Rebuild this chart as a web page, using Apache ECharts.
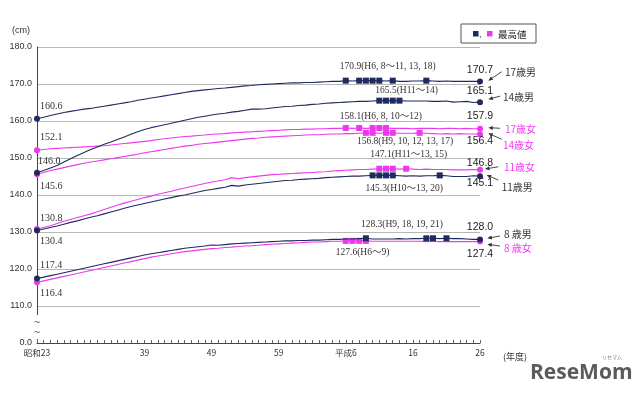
<!DOCTYPE html>
<html>
<head>
<meta charset="utf-8">
<script src="https://cdn.jsdelivr.net/npm/echarts@6/dist/echarts.min.js"></script>
<style>html,body{margin:0;padding:0;background:#fff;}#c{width:640px;height:393px;}</style>
</head>
<body>
<div id="c"></div>
<script>
// ---- categories (fiscal years 昭和23 … 平成26) ----
const categories = [];
for (let y = 1948; y <= 2014; y++) categories.push(y <= 1988 ? '昭和' + (y - 1925) : '平成' + (y - 1988));
const tickCats = ['昭和23', '昭和39', '昭和49', '昭和59', '平成6', '平成16', '平成26'];
const tickTexts = ['昭和23', '39', '49', '59', '平成6', '16', '26'];
const yTicks = [100, 110, 120, 130, 140, 150, 160, 170, 180];
const yTickTexts = ['0.0', '110.0', '120.0', '130.0', '140.0', '150.0', '160.0', '170.0', '180.0'];

// ---- series values (cm) ----
const m17 = [160.6,161.0,161.5,161.9,162.3,162.6,162.9,163.2,163.4,163.7,
  164.0,164.3,164.6,164.9,165.2,165.6,165.9,166.2,166.5,166.8,
  167.1,167.4,167.7,168.0,168.2,168.4,168.6,168.8,168.9,169.1,
  169.3,169.5,169.6,169.8,169.9,170.0,170.1,170.2,170.3,170.3,
  170.4,170.4,170.5,170.6,170.7,170.7,170.9,170.8,170.9,170.9,
  170.9,170.9,170.8,170.9,170.7,170.7,170.8,170.8,170.9,170.8,
  170.7,170.8,170.7,170.7,170.7,170.7,170.7];
const m14 = [146.0,146.6,147.3,148.0,148.9,149.8,150.7,151.5,152.3,153.0,
  153.7,154.3,155.0,155.7,156.4,157.1,157.7,158.2,158.6,159.0,
  159.4,159.8,160.2,160.6,161.0,161.3,161.6,161.9,162.1,162.4,
  162.6,162.9,163.2,163.2,163.3,163.5,163.7,163.9,164.0,164.2,
  164.3,164.5,164.6,164.8,164.9,165.0,165.1,165.2,165.3,165.3,
  165.4,165.5,165.5,165.5,165.5,165.4,165.4,165.4,165.4,165.3,
  165.3,165.4,165.1,165.2,165.3,165.0,165.1];
const f17 = [152.1,152.3,152.5,152.6,152.7,152.8,152.9,153.0,153.1,153.2,
  153.3,153.5,153.7,153.9,154.1,154.3,154.5,154.7,155.0,155.2,
  155.4,155.6,155.8,155.9,156.1,156.2,156.4,156.5,156.6,156.8,
  156.9,157.0,157.1,157.2,157.3,157.4,157.5,157.6,157.7,157.7,
  157.8,157.8,157.9,157.9,158.0,158.0,158.1,158.0,158.1,158.0,
  158.1,158.1,158.1,158.0,158.0,158.0,157.9,158.0,158.0,158.0,
  157.9,158.0,158.0,157.9,158.0,157.9,157.9];
const f14 = [145.6,146.1,146.6,147.0,147.4,147.8,148.2,148.6,148.9,149.2,
  149.5,149.8,150.1,150.4,150.7,151.0,151.4,151.7,152.0,152.3,
  152.6,152.9,153.2,153.4,153.7,153.9,154.1,154.3,154.5,154.7,
  154.9,155.1,155.3,155.4,155.6,155.7,155.8,155.9,156.0,156.1,
  156.2,156.3,156.3,156.4,156.5,156.5,156.6,156.6,156.7,156.8,
  156.8,156.7,156.8,156.8,156.7,156.7,156.7,156.8,156.7,156.6,
  156.5,156.6,156.5,156.6,156.5,156.5,156.4];
const f11 = [130.8,131.2,131.7,132.3,132.9,133.4,133.9,134.4,134.9,135.5,
  136.1,136.7,137.3,137.8,138.3,138.8,139.3,139.7,140.2,140.6,
  141.0,141.5,141.9,142.3,142.7,143.1,143.5,143.8,144.1,144.7,
  144.4,144.7,144.9,145.1,145.3,145.5,145.6,145.7,145.8,145.9,
  146.0,146.1,146.2,146.3,146.5,146.6,146.7,146.8,146.9,146.9,
  147.0,147.1,147.1,147.1,147.0,147.1,147.0,146.9,147.0,146.9,
  146.9,146.9,146.8,146.8,146.8,146.9,146.8];
const m11 = [130.4,130.8,131.2,131.6,132.1,132.6,133.0,133.5,134.0,134.4,
  134.9,135.4,135.9,136.4,136.9,137.3,137.7,138.1,138.5,138.9,
  139.3,139.7,140.0,140.4,140.8,141.2,141.5,141.8,142.1,142.6,
  142.4,142.7,142.9,143.1,143.3,143.5,143.7,143.9,144.0,144.2,
  144.3,144.4,144.5,144.7,144.8,144.9,145.0,145.1,145.1,145.2,
  145.3,145.3,145.3,145.3,145.2,145.1,145.2,145.1,145.2,145.2,
  145.3,145.2,145.0,145.0,145.0,145.2,145.1];
const m8 = [117.4,117.8,118.2,118.6,119.0,119.4,119.8,120.2,120.6,121.0,
  121.4,121.8,122.2,122.6,123.0,123.4,123.8,124.1,124.4,124.7,
  125.0,125.3,125.6,125.8,126.0,126.2,126.5,126.4,126.6,126.8,
  126.9,127.0,127.1,127.2,127.3,127.4,127.5,127.6,127.6,127.7,
  127.7,127.8,127.8,127.9,128.0,128.0,128.1,128.1,128.2,128.3,
  128.1,128.1,128.1,128.1,128.2,128.1,128.2,128.2,128.3,128.3,
  128.2,128.3,128.2,128.2,128.1,128.0,128.0];
const f8 = [116.4,116.8,117.2,117.6,118.0,118.4,118.8,119.2,119.6,120.0,
  120.4,120.8,121.2,121.6,122.0,122.4,122.8,123.2,123.5,123.8,
  124.1,124.4,124.7,124.9,125.1,125.3,125.5,125.6,125.8,125.9,
  126.1,126.2,126.3,126.4,126.6,126.7,126.8,126.9,127.0,127.1,
  127.2,127.3,127.3,127.4,127.5,127.5,127.6,127.6,127.6,127.6,
  127.5,127.5,127.5,127.5,127.5,127.5,127.5,127.5,127.4,127.5,
  127.4,127.4,127.4,127.4,127.4,127.4,127.4];

const seriesNames = ['17歳男', '14歳男', '17歳女', '14歳女', '11歳女', '11歳男', '8 歳男', '8 歳女'];
const seriesData = [m17, m14, f17, f14, f11, m11, m8, f8];
const isMale = [true, true, false, false, false, true, true, false];
const maxNotes = ['(H6, 8～11, 13, 18)', '(H11～14)', '(H6, 8, 10～12)', '(H9, 10, 12, 13, 17)',
  '(H11～13, 15)', '(H10～13, 20)', '(H9, 18, 19, 21)', '(H6～9)'];

// ---- styles / layout (offsets in px from the related point) ----
const NAVY = '#1f2a5e', PINK = '#ee38ee', PINKTXT = '#f03cf0';
const SERIF = "'Liberation Serif','DejaVu Serif','Noto Sans CJK JP',serif";
const SANS = "'Liberation Sans','Noto Sans CJK JP',sans-serif";
const CJK = "'Noto Sans CJK JP','Liberation Sans',sans-serif";
const startDy = [-12, -11, -13, 12, -11, 11, -13, 11];
const startDx = [3, 1, 3, 3, 3, 3, 3, 3];
const endDy = [-11, -11, -13, 7, -6.5, 6.5, -12, 12];
const noteOff = [[-6, -14], [-4, -10], [-6, -12], [-9, 9], [-9, -14], [-7, 13], [-5, -14], [-10, 12]];
const nameOff = [[25, -9.7], [23, -4.8], [25, 0.5], [23, 10.7], [24, -3.1], [21.7, 10.6], [24, -5.4], [24, 6.7]];
const arrowOff = [[[21.7, -9.7], [8.3, -0.7]], [[20, -6], [8.3, -2.8]], [[20, -0.5], [8.3, -1.1]], [[21.7, 5], [8.3, -1]],
  [[18.3, -3.1], [5, -0.8]], [[18.3, 3.9], [6.7, -1.1]], [[20, -3.4], [7.3, -1.1]], [[20, 4.4], [7.3, 2.7]]];

const chart = echarts.init(document.getElementById('c'), null, {renderer: 'canvas', width: 640, height: 393});

const series = seriesData.map((d, k) => {
  const mx = Math.max.apply(null, d);
  const col = isMale[k] ? NAVY : PINK;
  return {
    type: 'line', name: seriesNames[k], data: d, silent: true,
    showSymbol: true, showAllSymbol: true,
    symbol: (v, p) => (p.dataIndex === 0 || p.dataIndex === d.length - 1) ? 'circle' : (v === mx ? 'rect' : 'none'),
    symbolSize: (v, p) => (p.dataIndex === 0 || p.dataIndex === d.length - 1) ? 6 : 6,
    lineStyle: {color: col, width: 1.1},
    itemStyle: {color: col, borderWidth: 0},
    emphasis: {disabled: true},
    z: isMale[k] ? 3 : 2
  };
});

chart.setOption({
  animation: false,
  backgroundColor: '#ffffff',
  grid: {left: 37, right: 160, top: 47, bottom: 50, containLabel: false},
  xAxis: {
    type: 'category', data: categories, boundaryGap: false,
    axisLine: {lineStyle: {color: '#444', width: 1}},
    axisTick: {show: true, inside: true, length: 3, interval: 0, lineStyle: {color: '#666'}},
    axisLabel: {
      interval: (i, v) => tickCats.indexOf(v) >= 0,
      formatter: v => tickTexts[tickCats.indexOf(v)],
      fontSize: 8.5, color: '#333', margin: 6, fontFamily: CJK
    },
    splitLine: {show: false}
  },
  yAxis: {
    type: 'value', min: 100, max: 180, interval: 10,
    axisLine: {show: true, lineStyle: {color: '#444', width: 1}},
    axisTick: {show: false},
    axisLabel: {formatter: v => yTickTexts[yTicks.indexOf(v)], fontSize: 9, color: '#333', margin: 5, fontFamily: SANS},
    splitLine: {show: true, lineStyle: {color: '#b8b8b8', width: 1}}
  },
  series: series
});

// ---- annotations placed from the axes' own scale ----
const px = (i, v) => chart.convertToPixel({xAxisIndex: 0, yAxisIndex: 0}, [i, v]);
const g = [];
const txt = (x, y, text, o) => g.push({type: 'text', x: x, y: y, z: 100, silent: true,
  style: Object.assign({text: text, fill: '#333', fontSize: 10, fontFamily: SERIF, align: 'left', verticalAlign: 'middle'}, o || {})});

seriesData.forEach((d, k) => {
  const last = d.length - 1;
  const p0 = px(0, d[0]);
  const p1 = px(last, d[last]);
  txt(p0[0] + startDx[k], p0[1] + startDy[k], d[0].toFixed(1), {fontSize: 10});
  txt(p1[0], p1[1] + endDy[k], d[last].toFixed(1), {fontFamily: SANS, fontSize: 10.5, align: 'center', fill: '#222'});
  const mx = Math.max.apply(null, d);
  const im = d.indexOf(mx);
  const pm = px(im, mx);
  txt(pm[0] + noteOff[k][0], pm[1] + noteOff[k][1], mx.toFixed(1) + maxNotes[k], {fontSize: 9.5});
  txt(p1[0] + nameOff[k][0], p1[1] + nameOff[k][1], seriesNames[k],
    {fontFamily: CJK, fontSize: 10, fill: isMale[k] ? '#333' : PINKTXT});
  const t = [p1[0] + arrowOff[k][0][0], p1[1] + arrowOff[k][0][1]];
  const h = [p1[0] + arrowOff[k][1][0], p1[1] + arrowOff[k][1][1]];
  const dx = h[0] - t[0], dy = h[1] - t[1], L = Math.hypot(dx, dy), ux = dx / L, uy = dy / L;
  g.push({type: 'line', z: 100, silent: true, shape: {x1: t[0], y1: t[1], x2: h[0] - ux * 2, y2: h[1] - uy * 2},
    style: {stroke: '#333', lineWidth: 0.9}});
  g.push({type: 'polygon', z: 100, silent: true,
    shape: {points: [[h[0], h[1]], [h[0] - ux * 4.5 - uy * 2, h[1] - uy * 4.5 + ux * 2], [h[0] - ux * 4.5 + uy * 2, h[1] - uy * 4.5 - ux * 2]]},
    style: {fill: '#333'}});
});

// axis break on the y axis
const pA = px(0, 110), pB = px(0, 100);
g.push({type: 'rect', z: 90, silent: true, shape: {x: pA[0] - 4, y: pA[1] + 9, width: 8, height: pB[1] - pA[1] - 13}, style: {fill: '#fff'}});
txt(pA[0], pA[1] + 17, '~', {fontFamily: SANS, fontSize: 11, align: 'center', fill: '#555'});
txt(pA[0], pA[1] + 27, '~', {fontFamily: SANS, fontSize: 11, align: 'center', fill: '#555'});

// unit labels
txt(12, 31, '(cm)', {fontFamily: SANS, fontSize: 9});
txt(503, 357, '(年度)', {fontFamily: CJK, fontSize: 9});

// legend box
g.push({type: 'rect', z: 100, silent: true, shape: {x: 461, y: 24, width: 75, height: 19}, style: {fill: '#fff', stroke: '#555', lineWidth: 1}});
g.push({type: 'rect', z: 101, silent: true, shape: {x: 473, y: 31, width: 5.5, height: 5.5}, style: {fill: NAVY}});
txt(479, 35, ',', {fontFamily: SANS, fontSize: 9});
g.push({type: 'rect', z: 101, silent: true, shape: {x: 487, y: 31, width: 5.5, height: 5.5}, style: {fill: PINK}});
txt(498, 34, '最高値', {fontFamily: CJK, fontSize: 9.5, fill: '#222'});

// watermark
txt(602, 357, 'リセマム', {fontFamily: CJK, fontSize: 5, fill: '#777'});
txt(530, 373, 'ReseMom', {fontFamily: "'Open Sans','Liberation Sans',sans-serif", fontSize: 21, fontWeight: 'bold', fill: '#5a5a5a'});

chart.setOption({graphic: g});
</script>
</body>
</html>
